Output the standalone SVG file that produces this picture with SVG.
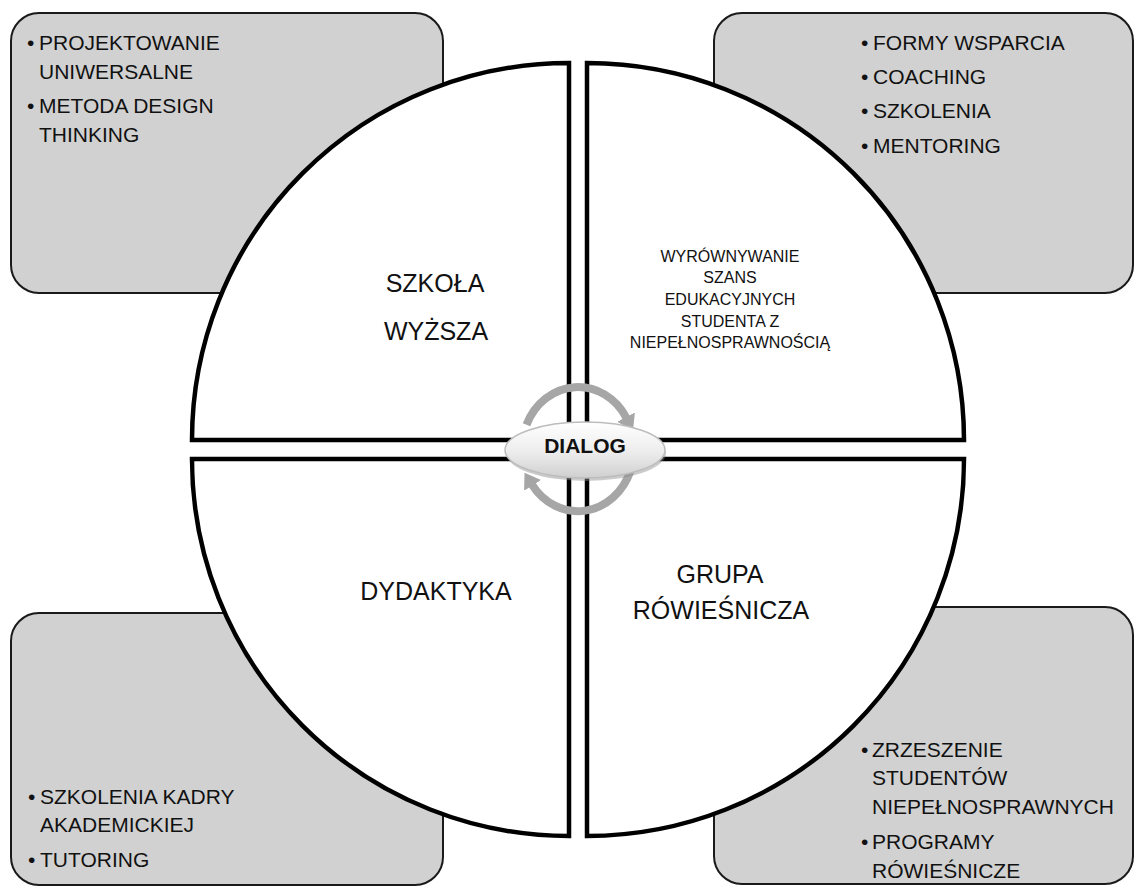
<svg xmlns="http://www.w3.org/2000/svg" width="1135" height="887" viewBox="0 0 1135 887">
<defs>
<style>
.box{fill:#d1d1d1;stroke:#1a1a1a;stroke-width:2}
.quad{fill:#ffffff;stroke:#000000;stroke-width:4.5;stroke-linejoin:miter}
.lst{font-family:"Liberation Sans",Arial,sans-serif;font-size:21px;fill:#111111}
.big{font-family:"Liberation Sans",Arial,sans-serif;font-size:25px;fill:#111111;text-anchor:middle}
.sm{font-family:"Liberation Sans",Arial,sans-serif;font-size:16px;fill:#111111;text-anchor:middle}
.arc{fill:none;stroke:#a6a6a6;stroke-width:8}
</style>
<marker id="ah" markerUnits="userSpaceOnUse" markerWidth="16" markerHeight="20" viewBox="0 0 16 20" refX="1" refY="10" orient="auto">
<path d="M0,0 L15,10 L0,20 Z" fill="#a6a6a6"/>
</marker>
<linearGradient id="eg" x1="0" y1="0" x2="0" y2="1">
<stop offset="0" stop-color="#ffffff"/>
<stop offset="0.55" stop-color="#ececec"/>
<stop offset="1" stop-color="#cfcfcf"/>
</linearGradient>
</defs>

<g id="box-top-left">
<rect class="box" x="11" y="13" width="432" height="280" rx="28"/>
<text class="lst" y="50"><tspan x="27">•</tspan><tspan x="39">PROJEKTOWANIE</tspan></text>
<text class="lst" x="39" y="78.5">UNIWERSALNE</text>
<text class="lst" y="113"><tspan x="27">•</tspan><tspan x="39">METODA DESIGN</tspan></text>
<text class="lst" x="39" y="142">THINKING</text>
</g>

<g id="box-top-right">
<rect class="box" x="714" y="13" width="419" height="280" rx="28"/>
<text class="lst" y="50"><tspan x="861">•</tspan><tspan x="873">FORMY WSPARCIA</tspan></text>
<text class="lst" y="84"><tspan x="861">•</tspan><tspan x="873">COACHING</tspan></text>
<text class="lst" y="118"><tspan x="861">•</tspan><tspan x="873">SZKOLENIA</tspan></text>
<text class="lst" y="152.5"><tspan x="861">•</tspan><tspan x="873">MENTORING</tspan></text>
</g>

<g id="box-bottom-left">
<rect class="box" x="11" y="613" width="432" height="272" rx="28"/>
<text class="lst" y="804"><tspan x="28">•</tspan><tspan x="40">SZKOLENIA KADRY</tspan></text>
<text class="lst" x="40" y="832">AKADEMICKIEJ</text>
<text class="lst" y="867"><tspan x="28">•</tspan><tspan x="40">TUTORING</tspan></text>
</g>

<g id="box-bottom-right">
<rect class="box" x="714" y="607" width="419" height="277" rx="28"/>
<text class="lst" y="757"><tspan x="861">•</tspan><tspan x="872">ZRZESZENIE</tspan></text>
<text class="lst" x="872" y="785">STUDENTÓW</text>
<text class="lst" x="872" y="814">NIEPEŁNOSPRAWNYCH</text>
<text class="lst" y="849"><tspan x="861">•</tspan><tspan x="872">PROGRAMY</tspan></text>
<text class="lst" x="872" y="878">RÓWIEŚNICZE</text>
</g>

<g id="quad-szkola">
<path class="quad" d="M569,440 H192 A377,377 0 0 1 569,63 Z"/>
<text class="big" x="435" y="292">SZKOŁA</text>
<text class="big" x="436" y="340">WYŻSZA</text>
</g>

<g id="quad-wyrownywanie">
<path class="quad" d="M587,440 V63 A377,377 0 0 1 964,440 Z"/>
<text class="sm" x="730" y="261.7">WYRÓWNYWANIE</text>
<text class="sm" x="730" y="283.3">SZANS</text>
<text class="sm" x="730" y="305">EDUKACYJNYCH</text>
<text class="sm" x="730" y="326.7">STUDENTA Z</text>
<text class="sm" x="730" y="348.3">NIEPEŁNOSPRAWNOŚCIĄ</text>
</g>

<g id="quad-dydaktyka">
<path class="quad" d="M569,459 V836 A377,377 0 0 1 192,459 Z"/>
<text class="big" x="436" y="600">DYDAKTYKA</text>
</g>

<g id="quad-grupa">
<path class="quad" d="M587,459 H964 A377,377 0 0 1 587,836 Z"/>
<text class="big" x="720" y="583">GRUPA</text>
<text class="big" x="721" y="619">RÓWIEŚNICZA</text>
</g>

<g id="connectors">
<path class="arc" d="M526.5,424.8 A56,62 0 0 1 626.5,418" marker-end="url(#ah)"/>
<path class="arc" d="M630.6,470.2 A56,62 0 0 1 532,484.6" marker-end="url(#ah)"/>
</g>

<g id="dialog">
<ellipse cx="586" cy="453" rx="80" ry="28" fill="#8c8c8c" opacity="0.45"/>
<ellipse cx="585" cy="450" rx="80" ry="28" fill="url(#eg)" stroke="#bdbdbd" stroke-width="1.5"/>
<text x="585" y="453" font-family="'Liberation Sans',Arial,sans-serif" font-size="21" font-weight="bold" fill="#111111" text-anchor="middle">DIALOG</text>
</g>
</svg>
